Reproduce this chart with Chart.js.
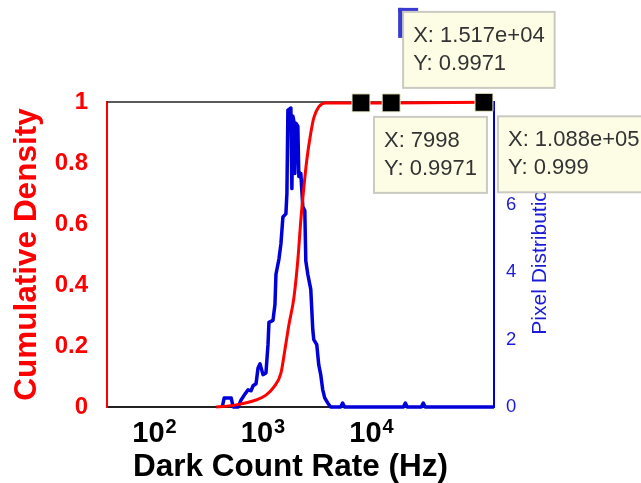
<!DOCTYPE html>
<html>
<head>
<meta charset="utf-8">
<script src="https://cdn.jsdelivr.net/npm/chart.js@4.4.0/dist/chart.umd.min.js"></script>
<style>
  html, body { margin: 0; padding: 0; background: #fff; }
</style>
</head>
<body>
<canvas id="myChart" width="641" height="483"></canvas>
<script>
// pixel distribution outline (Hz, % of pixels)
var histHz = [421, 439, 509, 531, 590, 628, 684, 729, 776, 810, 863, 900, 939, 1000, 1065,
  1112, 1135, 1236, 1289, 1317, 1403, 1463, 1526, 1626, 1661, 1696, 1807, 1846, 1885, 1925,
  1966, 2009, 2095, 2140, 2232, 2328, 2429, 2481, 2588, 2699, 2757, 2876, 2938, 3130,
  3265, 3405, 3553, 3706, 3948, 4206, 5194, 5418, 5652, 19660, 20510, 21390, 28750, 30000,
  31290, 134400];
var histPct = [0, 0.27, 0.27, 0, 0, 0.21, 0.39, 0.51, 0.48, 0.63, 0.69, 1.16, 1.28, 0.96, 1.01,
  1.85, 2.51, 2.57, 3.04, 3.94, 4.39, 4.84, 5.64, 5.73, 6.33, 8.81, 8.87, 6.48, 8.63, 8.48,
  6.93, 8.42, 8.33, 6.84, 6.93, 5.94, 5.82, 4.33, 3.94, 3.64, 3.49, 2.30, 2.00, 1.85,
  1.25, 0.96, 0.51, 0.27, 0.12, 0, 0, 0.12, 0, 0, 0.12, 0, 0, 0.12, 0, 0];

// cumulative density
var cdfHz = [371, 565, 863, 1065, 1262, 1463, 1591, 1732, 1925, 2095, 2232, 2377, 2533, 2757,
  2938, 3265, 3785, 7998, 15170, 108800];
var cdfVal = [0, 0.007, 0.023, 0.039, 0.066, 0.111, 0.187, 0.269, 0.357, 0.482, 0.613, 0.718,
  0.810, 0.898, 0.948, 0.984, 0.997, 0.9971, 0.9971, 0.999];

// data tips
var tipHz = [7998, 15170, 108800];
var tipVal = [0.9971, 0.9971, 0.999];
var tipText = [['X: 7998', 'Y: 0.9971'], ['X: 1.517e+04', 'Y: 0.9971'], ['X: 1.088e+05', 'Y: 0.999']];

var xTicks = [100, 1000, 10000];
var cdfTicks = [0, 0.2, 0.4, 0.6, 0.8, 1];
var pctTicks = [0, 2, 4, 6, 8];

var SANS = '"Liberation Sans", Arial, Helvetica, sans-serif';
var BLUE = '#0000d8';

function pts(xs, ys) {
  return xs.map(function (x, i) { return { x: x, y: ys[i] }; });
}

function drawTip(ctx, left, top, lines) {
  ctx.font = '22px ' + SANS;
  var w = 0;
  lines.forEach(function (t) { w = Math.max(w, ctx.measureText(t).width); });
  var bw = w + 20, bh = 76;
  ctx.fillStyle = '#fdfde6';
  ctx.fillRect(left, top, bw, bh);
  ctx.strokeStyle = '#cacac2';
  ctx.lineWidth = 2;
  ctx.strokeRect(left, top, bw, bh);
  ctx.fillStyle = '#333';
  ctx.textAlign = 'left';
  ctx.textBaseline = 'middle';
  ctx.fillText(lines[0], left + 10, top + 24);
  ctx.fillText(lines[1], left + 10, top + 52);
}

var decor = {
  id: 'decor',
  beforeDatasetsDraw: function (chart) {
    var a = chart.chartArea, ctx = chart.ctx;
    ctx.save();
    ctx.strokeStyle = '#222';
    ctx.lineWidth = 1.5;
    ctx.beginPath();
    ctx.moveTo(a.left, a.top);
    ctx.lineTo(a.right, a.top);
    ctx.stroke();
    ctx.restore();
  },
  afterDraw: function (chart) {
    var ctx = chart.ctx, a = chart.chartArea;
    var xs = chart.scales.x, ys = chart.scales.y;
    ctx.save();

    // x tick labels 10^n
    xTicks.forEach(function (v) {
      var px = xs.getPixelForValue(v);
      var exp = String(Math.round(Math.log10(v)));
      ctx.font = 'bold 29px ' + SANS;
      var w1 = ctx.measureText('10').width;
      ctx.font = 'bold 20px ' + SANS;
      var w2 = ctx.measureText(exp).width;
      var x0 = px - (w1 + w2 + 1) / 2;
      ctx.fillStyle = '#000';
      ctx.textAlign = 'left';
      ctx.textBaseline = 'alphabetic';
      ctx.font = 'bold 29px ' + SANS;
      ctx.fillText('10', x0, xs.top + 35);
      ctx.font = 'bold 20px ' + SANS;
      ctx.fillText(exp, x0 + w1 + 1, xs.top + 26);
    });

    // x title
    ctx.font = 'bold 31.5px ' + SANS;
    ctx.textAlign = 'center';
    ctx.fillText('Dark Count Rate (Hz)', (a.left + a.right) / 2 - 10, xs.bottom - 7);

    // right y title
    ctx.save();
    ctx.translate(a.right + 46, (a.top + a.bottom) / 2 + 2);
    ctx.rotate(-Math.PI / 2);
    ctx.font = '21px ' + SANS;
    ctx.fillStyle = '#1c1cd4';
    ctx.textAlign = 'center';
    ctx.textBaseline = 'middle';
    ctx.fillText('Pixel Distribution', 0, 0);
    ctx.restore();

    // data tips
    var p0x = xs.getPixelForValue(tipHz[0]), p0y = ys.getPixelForValue(tipVal[0]);
    var p1x = xs.getPixelForValue(tipHz[1]), p1y = ys.getPixelForValue(tipVal[1]);
    var p2x = xs.getPixelForValue(tipHz[2]), p2y = ys.getPixelForValue(tipVal[2]);

    // blue mark behind the upper tip
    ctx.fillStyle = '#3a3ad0';
    ctx.fillRect(p1x + 7, p1y - 95, 5, 30);
    ctx.fillRect(p1x + 7, p1y - 95, 20, 4);

    drawTip(ctx, p1x + 12, p1y - 91, tipText[1]);
    drawTip(ctx, p0x + 13, p0y + 14, tipText[0]);
    drawTip(ctx, p2x + 14, p2y + 14, tipText[2]);
    ctx.restore();
  }
};

var data = {
  datasets: [{
    label: 'tips',
    data: pts(tipHz, tipVal),
    yAxisID: 'y',
    showLine: false,
    pointStyle: 'rect',
    pointRadius: 12.7,
    backgroundColor: '#000',
    borderColor: '#ecebc8',
    borderWidth: 1,
    clip: false,
    order: 1
  }, {
    label: 'Cumulative Density',
    data: pts(cdfHz, cdfVal),
    yAxisID: 'y',
    borderColor: '#ff0000',
    borderWidth: 3,
    borderJoinStyle: 'round',
    pointRadius: 0,
    cubicInterpolationMode: 'monotone',
    clip: false,
    order: 2
  }, {
    label: 'Pixel Distribution',
    data: pts(histHz, histPct),
    yAxisID: 'y2',
    borderColor: BLUE,
    borderWidth: 3.5,
    borderJoinStyle: 'round',
    pointRadius: 0,
    tension: 0,
    clip: false,
    order: 3
  }]
};

var config = {
  type: 'line',
  data: data,
  options: {
    responsive: false,
    animation: false,
    events: [],
    layout: { padding: { top: 102, left: 0, right: 0, bottom: 0 } },
    plugins: { legend: { display: false }, tooltip: { enabled: false } },
    scales: {
      x: {
        type: 'logarithmic',
        position: 'bottom',
        min: 36.5,
        max: 134600,
        afterBuildTicks: function (s) { s.ticks = xTicks.map(function (v) { return { value: v }; }); },
        afterFit: function (s) { s.height = 76; },
        grid: { display: false, drawTicks: false },
        border: { display: true, color: '#222', width: 2 },
        ticks: { display: false }
      },
      y: {
        position: 'left',
        min: 0,
        max: 1,
        afterBuildTicks: function (s) { s.ticks = cdfTicks.map(function (v) { return { value: v }; }); },
        afterFit: function (s) { s.width = 107; },
        grid: { display: false, drawTicks: false },
        border: { display: true, color: '#ff0000', width: 2 },
        ticks: {
          color: '#ff0000',
          padding: 19,
          font: { family: SANS, size: 24, weight: 'bold' },
          callback: function (v) { return String(v); }
        },
        title: {
          display: true,
          text: 'Cumulative Density',
          color: '#ff0000',
          font: { family: SANS, size: 31.5, weight: 'bold' },
          padding: { top: 8, bottom: 0 }
        }
      },
      y2: {
        position: 'right',
        min: 0,
        max: 9.05,
        afterBuildTicks: function (s) { s.ticks = pctTicks.map(function (v) { return { value: v }; }); },
        afterFit: function (s) { s.width = 147; },
        grid: { display: false, drawTicks: false },
        border: { display: true, color: BLUE, width: 2 },
        ticks: {
          color: '#1c1cd4',
          padding: 12,
          font: { family: SANS, size: 18.5 },
          callback: function (v) { return String(v); }
        }
      }
    }
  },
  plugins: [decor]
};

var myChart = new Chart(document.getElementById('myChart'), config);
</script>
</body>
</html>
